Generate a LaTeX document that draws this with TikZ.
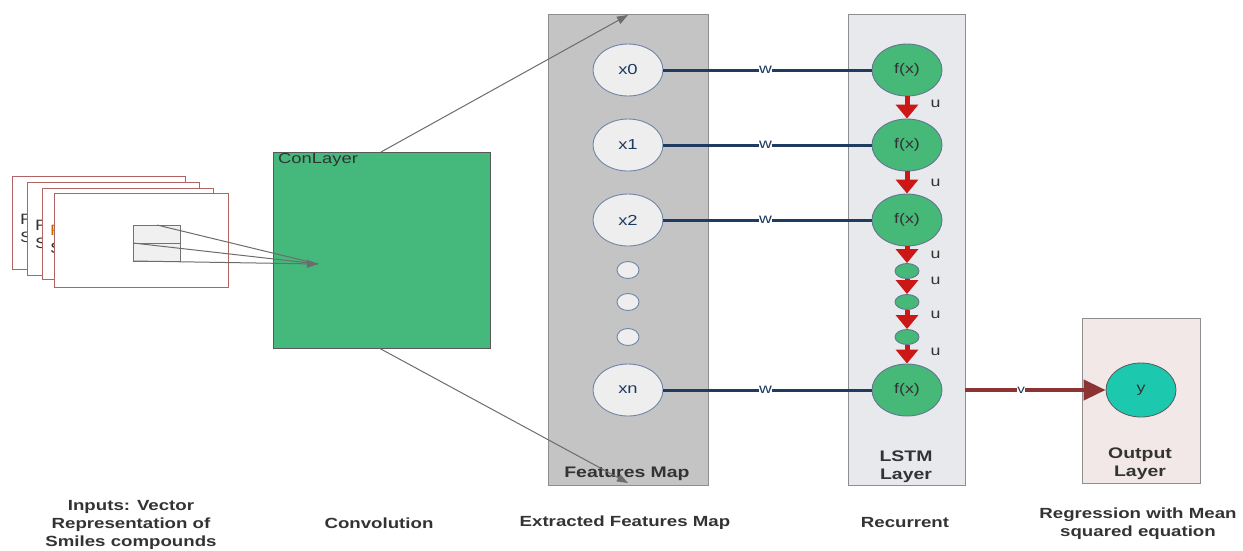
\documentclass[tikz,border=0pt]{standalone}
\usepackage{fontspec}
\setmainfont[FakeStretch=1.27]{Liberation Sans}
\usetikzlibrary{shapes.geometric,arrows.meta}
\definecolor{conv}{HTML}{45B87C}
\definecolor{fmfill}{HTML}{C4C4C4}
\definecolor{boxline}{HTML}{8E8E8E}
\definecolor{lstmfill}{HTML}{E8E9ED}
\definecolor{outfill}{HTML}{F2E8E8}
\definecolor{nodefill}{HTML}{EEEEEE}
\definecolor{nodeline}{HTML}{6F86A8}
\definecolor{navy}{HTML}{1F3B62}
\definecolor{redarr}{HTML}{CC1717}
\definecolor{darkred}{HTML}{8C3434}
\definecolor{cardline}{HTML}{B26464}
\definecolor{teal}{HTML}{1CC8AE}
\definecolor{txt}{HTML}{333333}
\definecolor{fgreen}{HTML}{46B878}
\tikzset{
  x=1pt,y=-1pt,
  panel/.style={draw=boxline,line width=1pt,anchor=north west,inner sep=0},
  feat/.style={ellipse,draw=nodeline,fill=nodefill,line width=0.9pt,minimum width=70pt,minimum height=52pt,inner sep=0,font=\fontsize{14.5}{14}\selectfont,text=navy},
  featsmall/.style={ellipse,draw=nodeline,fill=nodefill,line width=0.9pt,minimum width=22pt,minimum height=17pt,inner sep=0},
  fx/.style={ellipse,draw=navy!70,fill=fgreen,line width=0.9pt,minimum width=70pt,minimum height=52pt,inner sep=0,font=\fontsize{14}{14}\selectfont,text=txt},
  fxsmall/.style={ellipse,draw=navy!70,fill=fgreen,line width=0.9pt,minimum width=24pt,minimum height=15pt,inner sep=0},
  wline/.style={draw=navy,line width=3pt},
  wlab/.style={fill=white,inner sep=0.5pt,font=\fontsize{14}{12}\selectfont,text=navy},
  uarr/.style={draw=redarr,line width=5pt,-{Triangle[length=14pt,width=22pt]}},
  ulab/.style={font=\fontsize{14}{12}\selectfont,text=txt,anchor=west},
  grayarr/.style={draw=gray!85!black,line width=1pt,-{Triangle[length=11pt,width=8pt]}},
  card/.style={draw=cardline,fill=white,line width=1pt,anchor=north west,inner sep=0},
  cardtxt/.style={font=\fontsize{15}{18}\selectfont,text=txt,anchor=north west,align=left,inner sep=0},
  caption/.style={font=\bfseries\fontsize{14.7}{18}\selectfont,text=txt,align=center},
  boxcap/.style={font=\bfseries\fontsize{15.3}{18}\selectfont,text=txt,align=center},
}
\begin{document}
\begin{tikzpicture}
\useasboundingbox (0,0) rectangle (1243,550);
% input cards
\node[card,minimum width=173pt,minimum height=93pt] (c1) at (12,176) {};
\node[cardtxt] (t1) at (20,214) {R\\S};
\node[card,minimum width=172pt,minimum height=93pt] (c2) at (27,182) {};
\node[cardtxt] (t2) at (35,220) {R\\S};
\node[card,minimum width=171pt,minimum height=91pt] (c3) at (42,188) {};
\node[cardtxt] (t3) at (50,225) {{\color{orange!80!black}R}\\S};
\node[card,minimum width=174pt,minimum height=94pt] (c4) at (54,193) {};
\node[draw=gray!90!black,fill=gray!12,line width=1pt,anchor=north west,minimum width=47pt,minimum height=36pt,inner sep=0] (win) at (133,225) {};
\draw[draw=gray!90!black,line width=1pt] (win.west) -- (win.east);
% conv layer
\node[panel,fill=conv,draw=gray!70!black,minimum width=217pt,minimum height=196pt] (conv) at (273,152) {};
\node[anchor=north west,font=\fontsize{14.5}{14}\selectfont,text=txt,inner sep=0] (convlab) at (278,153) {ConLayer};
\coordinate (tip) at (318,264);
\coordinate (w1) at (157,225);
\coordinate (w2) at (133,243);
\coordinate (w3) at (133,261);
\draw[draw=gray!85!black,line width=1pt] (w1) -- (tip);
\draw[draw=gray!85!black,line width=1pt] (w2) -- (tip);
\draw[grayarr] (w3) -- (tip);
% features map
\node[panel,fill=fmfill,minimum width=160pt,minimum height=471pt] (fm) at (548,14) {};
\node[boxcap] (fmlab) at (627,474) {Features Map};
\node[feat] (x0) at (628,70) {x0};
\node[feat] (x1) at (628,145) {x1};
\node[feat] (x2) at (628,220) {x2};
\node[featsmall] (d1) at (628,270) {};
\node[featsmall] (d2) at (628,302) {};
\node[featsmall] (d3) at (628,337) {};
\node[feat] (xn) at (628,390) {xn};
% arrows from conv
\coordinate (cu) at (381,152);
\coordinate (cd) at (379,348);
\coordinate (fu) at (628,15);
\coordinate (fd) at (628,483);
\draw[grayarr] (cu) -- (fu);
\draw[grayarr] (cd) -- (fd);
% LSTM
\node[panel,fill=lstmfill,minimum width=117pt,minimum height=471pt] (lstm) at (848,14) {};
\node[boxcap] (lstmlab) at (906,467) {LSTM\\Layer};
\node[fx] (f0) at (907,70) {f(x)};
\node[fx] (f1) at (907,145) {f(x)};
\node[fx] (f2) at (907,220) {f(x)};
\node[fxsmall] (s1) at (907,271) {};
\node[fxsmall] (s2) at (907,302) {};
\node[fxsmall] (s3) at (907,337) {};
\node[fx] (f3) at (907,390) {f(x)};
% w lines
\draw[wline] (x0.east) -- node[wlab,pos=0.49] (wl0) {w} (f0.west);
\draw[wline] (x1.east) -- node[wlab,pos=0.49] (wl1) {w} (f1.west);
\draw[wline] (x2.east) -- node[wlab,pos=0.49] (wl2) {w} (f2.west);
\draw[wline] (xn.east) -- node[wlab,pos=0.49] (wl3) {w} (f3.west);
% u arrows
\draw[uarr] (f0.south) -- (f1.north);
\draw[uarr] (f1.south) -- (f2.north);
\draw[uarr] (f2.south) -- (s1.north);
\draw[uarr] (s1.south) -- (s2.north);
\draw[uarr] (s2.south) -- (s3.north);
\draw[uarr] (s3.south) -- (f3.north);
\node[ulab] (u1) at (927,104) {u};
\node[ulab] (u2) at (927,183) {u};
\node[ulab] (u3) at (927,255) {u};
\node[ulab] (u4) at (927,281) {u};
\node[ulab] (u5) at (927,315) {u};
\node[ulab] (u6) at (927,352) {u};
% output
\node[panel,fill=outfill,minimum width=118pt,minimum height=165pt] (outp) at (1082,318) {};
\node[ellipse,draw=gray!70!black,fill=teal,line width=0.8pt,minimum width=70pt,minimum height=54pt,inner sep=0,font=\fontsize{14}{14}\selectfont,text=txt] (y) at (1141,390) {y};
\node[boxcap] (outlab) at (1140,464) {Output\\Layer};
\coordinate (lo) at (965,390);
\draw[draw=darkred,line width=4pt,-{Triangle[length=22pt,width=20pt]}] (lo) -- node[fill=white,inner sep=0.3pt,font=\fontsize{12}{10}\selectfont,text=navy,pos=0.4] (vl) {v} (y.west);
% captions
\node[caption] (cap1) at (131,525) {Inputs: Vector\\Representation of\\Smiles compounds};
\node[caption] (cap2) at (379,523) {Convolution};
\node[caption] (cap3) at (625,523) {Extracted Features Map};
\node[caption] (cap4) at (905,523) {Recurrent};
\node[caption] (cap5) at (1138,524) {Regression with Mean\\squared equation};
\end{tikzpicture}
\end{document}
